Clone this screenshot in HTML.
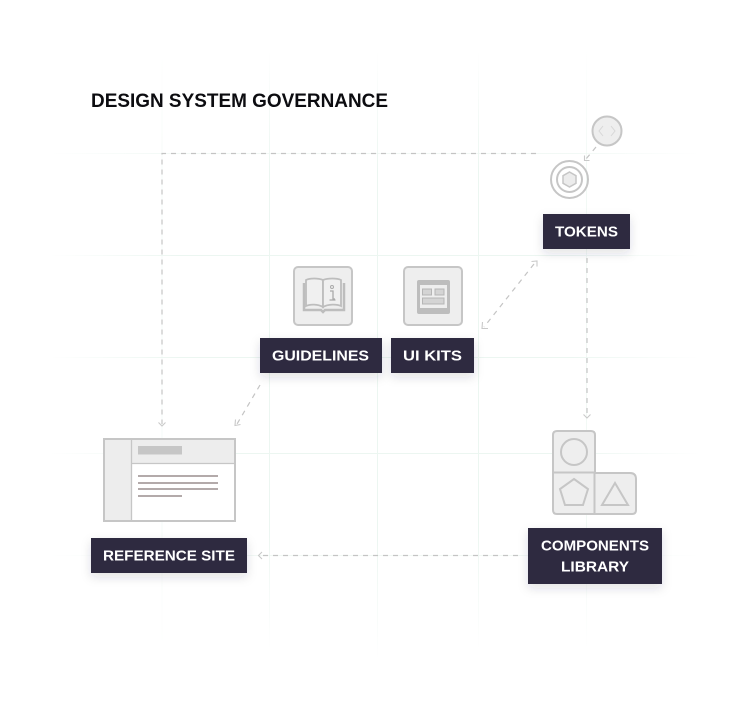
<!DOCTYPE html>
<html>
<head>
<meta charset="utf-8">
<style>
html,body{margin:0;padding:0;background:#fff;width:754px;height:708px;overflow:hidden}
svg{display:block}
.t{font-family:"Liberation Sans",sans-serif;font-weight:bold;fill:#fff;font-size:15px}
.i{fill:#eee;stroke:#c6c6c6;stroke-width:2}
.n{fill:none;stroke:#c6c6c6;stroke-width:2}
.d{fill:none;stroke:#c4c4c4;stroke-width:1.200;stroke-dasharray:5 5}
.a{fill:none;stroke:#c9c9c9;stroke-width:1.100}
.b{fill:#2f2a41}
</style>
</head>
<body>
<svg width="754" height="708" viewBox="0 0 754 708" xmlns="http://www.w3.org/2000/svg">
<defs>
<linearGradient id="gv" x1="0" y1="0" x2="0" y2="1">
<stop offset="0" stop-color="#ecf6f1" stop-opacity="0"/>
<stop offset=".2" stop-color="#ecf6f1"/>
<stop offset=".8" stop-color="#ecf6f1"/>
<stop offset="1" stop-color="#ecf6f1" stop-opacity="0"/>
</linearGradient>
<linearGradient id="gh" x1="0" y1="0" x2="1" y2="0">
<stop offset="0" stop-color="#ecf6f1" stop-opacity="0"/>
<stop offset=".2" stop-color="#ecf6f1"/>
<stop offset=".8" stop-color="#ecf6f1"/>
<stop offset="1" stop-color="#ecf6f1" stop-opacity="0"/>
</linearGradient>
<filter id="s" x="-20%" y="-30%" width="140%" height="180%">
<feDropShadow dx="0" dy="4" stdDeviation="5" flood-color="#2f2a41" flood-opacity=".14"/>
</filter>
</defs>

<!-- background grid -->
<g>
<rect x="269" y="50" width="1" height="600" fill="url(#gv)"/>
<rect x="377" y="50" width="1" height="610" fill="url(#gv)"/>
<rect x="478" y="50" width="1" height="600" fill="url(#gv)"/>
<rect x="586" y="50" width="1" height="600" fill="url(#gv)" opacity=".7"/>
<rect x="161.500" y="50" width="1" height="600" fill="url(#gv)" opacity=".5"/>
<rect x="50" y="153" width="650" height="1" fill="url(#gh)" opacity=".7"/>
<rect x="50" y="255" width="650" height="1" fill="url(#gh)"/>
<rect x="50" y="357" width="650" height="1" fill="url(#gh)"/>
<rect x="50" y="453" width="650" height="1" fill="url(#gh)"/>
<rect x="50" y="555" width="650" height="1" fill="url(#gh)" opacity=".7"/>
</g>

<text x="91" y="107" font-family="'Liberation Sans',sans-serif" font-weight="bold" font-size="19" fill="#0c0c10" textLength="297" lengthAdjust="spacingAndGlyphs">DESIGN SYSTEM GOVERNANCE</text>

<!-- connectors -->
<path class="d" d="M536 153.500H162V424"/>
<path class="a" d="M158.500 422.500L162 426L165.500 422.500"/>
<path class="d" d="M596 147L586 159"/>
<path class="a" d="M584.500 155.500L584.500 160.500L589.500 160.500"/>
<path class="d" d="M534 264L484 327"/>
<path class="a" d="M531.500 261.500L537 261L537 266.500"/>
<path class="a" d="M482.500 322L482 328.500L488 328.500"/>
<path class="d" d="M587 258V416"/>
<path class="a" d="M583.500 414.500L587 418L590.500 414.500"/>
<path class="d" d="M260 385L237 424"/>
<path class="a" d="M235.500 419.500L235 425.500L240.500 424.500"/>
<path class="d" d="M518 555.500H262"/>
<path class="a" d="M262 552L258.500 555.500L262 559"/>

<!-- code circle -->
<circle class="i" cx="607" cy="131" r="14.500"/>
<path fill="none" stroke="#d8d8d8" stroke-width="1" d="M603 126L599 131L603 136M611 126L615 131L611 136"/>

<!-- target -->
<circle class="n" cx="569.500" cy="179.500" r="18.500"/>
<circle class="n" cx="569.500" cy="179.500" r="12.500"/>
<path fill="#ececec" stroke="#c6c6c6" stroke-width="1.500" d="M569.500 172L576 175.700V183.300L569.500 187L563 183.300V175.700Z"/>

<!-- guideline icon -->
<rect class="i" x="294" y="267" width="58" height="58" rx="4"/>
<path fill="#f0f0f0" stroke="#bdbdbd" stroke-width="1.800" d="M323 280C318 278 310 278 306 280V306C310 304 318 304 323 307Z"/>
<path fill="#f0f0f0" stroke="#bdbdbd" stroke-width="1.800" d="M323 280C328 278 337 278 341 280V306C337 304 328 304 323 307Z"/>
<path fill="none" stroke="#bdbdbd" stroke-width="2.500" d="M304 283V310H321L323 312L325 310H344V283"/>
<circle cx="332" cy="287" r="1.500" fill="none" stroke="#aaa"/>
<path fill="none" stroke="#aaa" stroke-width="1.300" d="M330 291H333V299H335M329.500 300H335.500"/>

<!-- UI kits icon -->
<rect class="i" x="404" y="267" width="58" height="58" rx="4"/>
<rect x="417" y="280" width="33" height="34" rx="2" fill="#bdbdbd"/>
<rect x="420" y="285" width="27" height="23" fill="#eee"/>
<rect x="422.500" y="289" width="9" height="6" fill="#d4d4d4" stroke="#b5b5b5"/>
<rect x="435" y="289" width="9" height="6" fill="#d4d4d4" stroke="#b5b5b5"/>
<rect x="422.500" y="298" width="21.500" height="6" fill="#d4d4d4" stroke="#b5b5b5"/>

<!-- reference site icon -->
<rect x="104" y="439" width="131" height="82" fill="#fff" stroke="#c6c6c6" stroke-width="2"/>
<rect x="105" y="440" width="26" height="80" fill="#ededed"/>
<rect x="132" y="440" width="102" height="23" fill="#ededed"/>
<path stroke="#c6c6c6" stroke-width="1.300" d="M131.500 440V520M132 463.500H234"/>
<rect x="138" y="446" width="44" height="8.500" fill="#c6c6c6"/>
<g fill="#b3aaaa">
<rect x="138" y="475" width="80" height="2"/>
<rect x="138" y="482" width="80" height="2"/>
<rect x="138" y="488" width="80" height="2"/>
<rect x="138" y="495" width="44" height="2"/>
</g>

<!-- components icon -->
<path class="i" d="M557 431H591Q595 431 595 435V473H630Q636 473 636 479V510Q636 514 632 514H557Q553 514 553 510V435Q553 431 557 431Z"/>
<path class="n" d="M553 472.500H595M594.500 472V514"/>
<circle class="n" cx="574" cy="452" r="13"/>
<path class="n" d="M574 479L588 489L583 505H565L560 489Z"/>
<path class="n" d="M615 483L628 505H602Z"/>

<!-- labels -->
<rect class="b" x="543" y="214" width="87" height="35" filter="url(#s)"/>
<text class="t" x="555" y="236.500" textLength="63" lengthAdjust="spacingAndGlyphs">TOKENS</text>

<rect class="b" x="260" y="338" width="122" height="35" filter="url(#s)"/>
<text class="t" x="272" y="360.500" textLength="97" lengthAdjust="spacingAndGlyphs">GUIDELINES</text>

<rect class="b" x="391" y="338" width="83" height="35" filter="url(#s)"/>
<text class="t" x="403" y="360.500" textLength="59" lengthAdjust="spacingAndGlyphs">UI KITS</text>

<rect class="b" x="91" y="538" width="156" height="35" filter="url(#s)"/>
<text class="t" x="103" y="560.500" textLength="132" lengthAdjust="spacingAndGlyphs">REFERENCE SITE</text>

<rect class="b" x="528" y="528" width="134" height="56" filter="url(#s)"/>
<text class="t" x="541" y="550.500" textLength="108" lengthAdjust="spacingAndGlyphs">COMPONENTS</text>
<text class="t" x="561" y="571.500" textLength="68" lengthAdjust="spacingAndGlyphs">LIBRARY</text>
</svg>
</body>
</html>
